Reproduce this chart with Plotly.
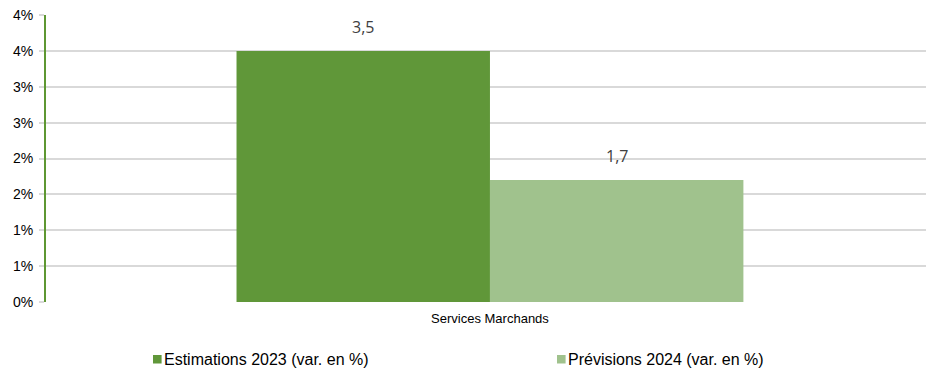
import plotly.graph_objects as go

# Chart data
categories = ["Services Marchands"]
estimations_2023 = [3.5]
previsions_2024 = [1.7]
series_names = ["Estimations 2023 (var. en %)", "Prévisions 2024 (var. en %)"]
series_colors = ["#609739", "#a0c28d"]
tick_values = [0, 0.5, 1, 1.5, 2, 2.5, 3, 3.5, 4]
tick_labels = ["0%", "1%", "1%", "2%", "2%", "3%", "3%", "4%", "4%"]

W, H = 926, 369
M_L, M_R, M_T, M_B = 46, 0, 15, 67
PW, PH = W - M_L - M_R, H - M_T - M_B


def px_x(px):
    return (px - M_L) / PW


def px_y(py):
    return (H - M_B - py) / PH


fig = go.Figure()
for name, vals, color in zip(series_names, [estimations_2023, previsions_2024], series_colors):
    fig.add_trace(go.Bar(
        x=categories, y=vals, name=name,
        marker=dict(color=color, line=dict(width=0)),
    ))

# Value labels above each bar (decimal comma)
bar_offsets = [-127, 127]
for vals, dx in zip([estimations_2023, previsions_2024], bar_offsets):
    for cat, v in zip(categories, vals):
        fig.add_annotation(
            x=cat, y=v, text=f"{v:.1f}".replace(".", ","),
            showarrow=False, xshift=dx, yshift=24,
            font=dict(family="Open Sans", size=16, color="#404040"),
        )

# Legend row below the plot: small colour square followed by the series name
legend_left = [153, 557]
for name, color, lx in zip(series_names, series_colors, legend_left):
    fig.add_shape(
        type="rect", xref="paper", yref="paper",
        x0=px_x(lx), x1=px_x(lx + 8.6), y0=px_y(363.5), y1=px_y(355),
        fillcolor=color, line=dict(width=0),
    )
    fig.add_annotation(
        xref="paper", yref="paper", x=px_x(lx + 9), y=px_y(359),
        xanchor="left", yanchor="middle", showarrow=False, text=name,
        font=dict(family="Liberation Sans, Arial", size=16, color="#000000"),
    )

fig.update_layout(
    width=W, height=H,
    margin=dict(l=M_L, r=M_R, t=M_T, b=M_B, autoexpand=False),
    paper_bgcolor="white", plot_bgcolor="white",
    barmode="group", bargap=0.424, bargroupgap=0,
    showlegend=False,
    font=dict(family="Liberation Sans, Arial", size=13, color="#000000"),
)
fig.update_xaxes(
    type="category", range=[-0.5045, 0.4955],
    showline=False, showgrid=False, ticks="", ticklabelstandoff=7,
    tickfont=dict(family="Liberation Sans, Arial", size=13, color="#000000"),
)
fig.update_yaxes(
    range=[0, 4], tickvals=tick_values, ticktext=tick_labels,
    showgrid=True, gridcolor="#d9d9d9", gridwidth=1.5,
    showline=True, linecolor="#5e9732", linewidth=2,
    ticks="outside", ticklen=5, tickcolor="#d9d9d9", tickwidth=1.5,
    zeroline=False, ticklabelstandoff=3,
    tickfont=dict(family="Liberation Sans, Arial", size=14, color="#000000"),
)

fig.write_html("out.html")
